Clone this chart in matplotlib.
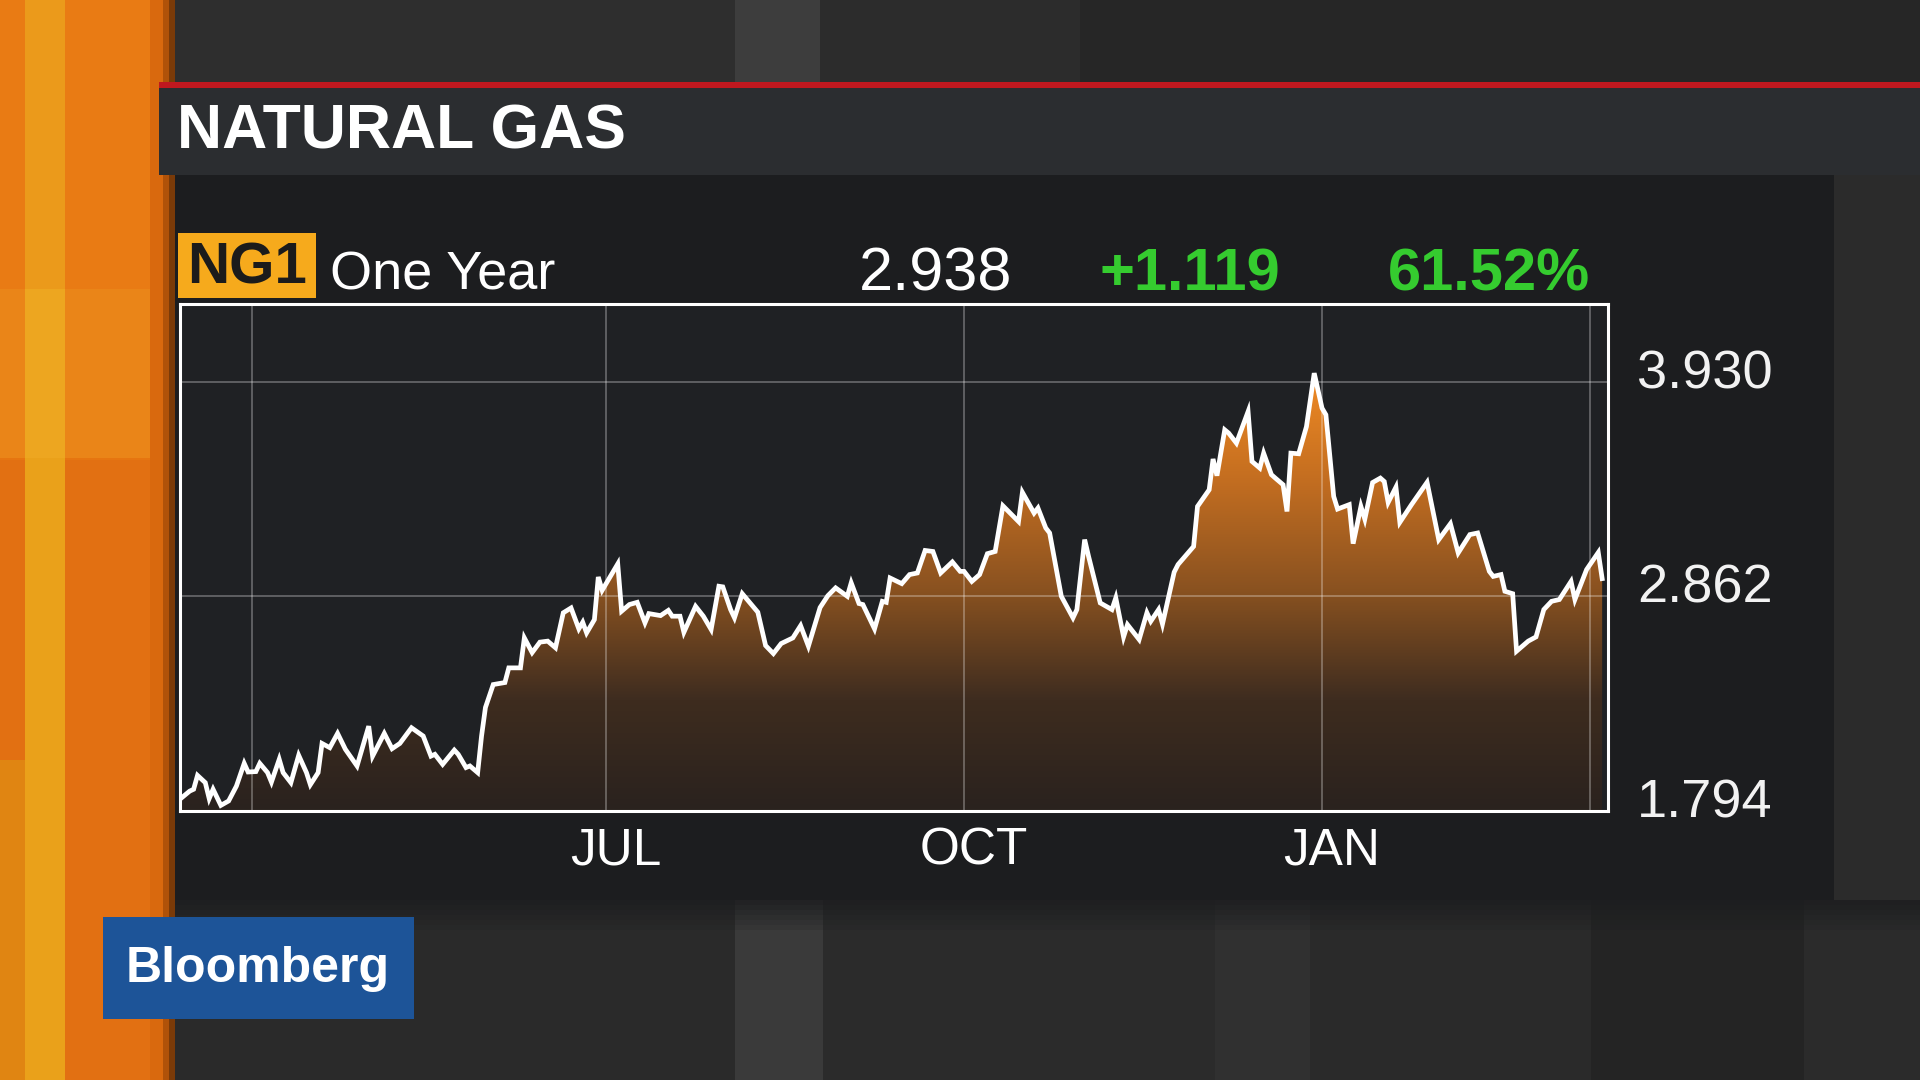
import matplotlib
matplotlib.use("Agg")
import matplotlib.pyplot as plt
import matplotlib.transforms as mtransforms
from matplotlib.patches import Rectangle, PathPatch
from matplotlib.colors import LinearSegmentedColormap
import numpy as np
import pandas as pd

plt.rcParams['font.family'] = ['Liberation Sans', 'DejaVu Sans']

# NG1 front-month natural gas
dates = [
    "2016-03-14", "2016-03-16", "2016-03-17", "2016-03-18", "2016-03-20", "2016-03-21",
    "2016-03-22", "2016-03-24", "2016-03-26", "2016-03-28", "2016-03-30", "2016-03-31",
    "2016-04-02", "2016-04-03", "2016-04-05", "2016-04-06", "2016-04-08", "2016-04-09",
    "2016-04-11", "2016-04-13", "2016-04-15", "2016-04-16", "2016-04-18", "2016-04-19",
    "2016-04-21", "2016-04-23", "2016-04-25", "2016-04-28", "2016-05-01", "2016-05-02",
    "2016-05-05", "2016-05-07", "2016-05-09", "2016-05-12", "2016-05-15", "2016-05-17",
    "2016-05-18", "2016-05-20", "2016-05-23", "2016-05-24", "2016-05-26", "2016-05-27",
    "2016-05-29", "2016-05-30", "2016-05-31", "2016-06-02", "2016-06-05", "2016-06-06",
    "2016-06-09", "2016-06-10", "2016-06-12", "2016-06-14", "2016-06-16", "2016-06-18",
    "2016-06-20", "2016-06-22", "2016-06-24", "2016-06-25", "2016-06-26", "2016-06-28",
    "2016-06-29", "2016-06-30", "2016-07-04", "2016-07-05", "2016-07-07", "2016-07-09",
    "2016-07-11", "2016-07-12", "2016-07-15", "2016-07-17", "2016-07-18", "2016-07-20",
    "2016-07-21", "2016-07-24", "2016-07-26", "2016-07-28", "2016-07-30", "2016-07-31",
    "2016-08-02", "2016-08-03", "2016-08-05", "2016-08-07", "2016-08-09", "2016-08-11",
    "2016-08-13", "2016-08-15", "2016-08-18", "2016-08-20", "2016-08-22", "2016-08-25",
    "2016-08-27", "2016-08-29", "2016-09-01", "2016-09-02", "2016-09-04", "2016-09-05",
    "2016-09-08", "2016-09-10", "2016-09-11", "2016-09-12", "2016-09-15", "2016-09-17",
    "2016-09-19", "2016-09-21", "2016-09-23", "2016-09-25", "2016-09-28", "2016-09-30",
    "2016-10-01", "2016-10-03", "2016-10-05", "2016-10-07", "2016-10-09", "2016-10-11",
    "2016-10-15", "2016-10-16", "2016-10-19", "2016-10-20", "2016-10-22", "2016-10-23",
    "2016-10-26", "2016-10-29", "2016-10-30", "2016-11-01", "2016-11-02", "2016-11-05",
    "2016-11-08", "2016-11-09", "2016-11-11", "2016-11-12", "2016-11-15", "2016-11-17",
    "2016-11-18", "2016-11-20", "2016-11-21", "2016-11-24", "2016-11-25", "2016-11-29",
    "2016-11-30", "2016-12-03", "2016-12-04", "2016-12-05", "2016-12-07", "2016-12-08",
    "2016-12-10", "2016-12-13", "2016-12-14", "2016-12-16", "2016-12-17", "2016-12-19",
    "2016-12-20", "2016-12-22", "2016-12-23", "2016-12-24", "2016-12-26", "2016-12-28",
    "2016-12-30", "2017-01-01", "2017-01-02", "2017-01-04", "2017-01-05", "2017-01-08",
    "2017-01-09", "2017-01-11", "2017-01-12", "2017-01-14", "2017-01-16", "2017-01-17",
    "2017-01-18", "2017-01-20", "2017-01-21", "2017-01-24", "2017-01-28", "2017-01-31",
    "2017-02-03", "2017-02-05", "2017-02-08", "2017-02-10", "2017-02-13", "2017-02-14",
    "2017-02-16", "2017-02-17", "2017-02-19", "2017-02-20", "2017-02-23", "2017-02-25",
    "2017-02-27", "2017-03-01", "2017-03-03", "2017-03-06", "2017-03-07", "2017-03-10",
    "2017-03-13", "2017-03-14",
]
prices = [
    1.861, 1.893, 1.902, 1.971, 1.935, 1.856,
    1.902, 1.822, 1.844, 1.918, 2.031, 1.988,
    1.990, 2.031, 1.985, 1.938, 2.051, 1.985,
    1.935, 2.071, 1.985, 1.925, 1.985, 2.130,
    2.109, 2.180, 2.101, 2.018, 2.216, 2.067,
    2.180, 2.104, 2.130, 2.208, 2.167, 2.067,
    2.076, 2.026, 2.097, 2.076, 2.010, 2.018,
    1.985, 2.167, 2.309, 2.423, 2.433, 2.506,
    2.506, 2.655, 2.582, 2.634, 2.639, 2.606,
    2.780, 2.804, 2.700, 2.733, 2.680, 2.746,
    2.958, 2.892, 3.023, 2.788, 2.821, 2.832,
    2.730, 2.776, 2.766, 2.792, 2.763, 2.763,
    2.683, 2.812, 2.763, 2.697, 2.912, 2.909,
    2.796, 2.755, 2.875, 2.829, 2.783, 2.617,
    2.577, 2.627, 2.655, 2.716, 2.614, 2.806,
    2.865, 2.904, 2.862, 2.929, 2.826, 2.821,
    2.700, 2.837, 2.832, 2.953, 2.925, 2.970,
    2.978, 3.090, 3.085, 2.978, 3.033, 2.986,
    2.986, 2.936, 2.970, 3.074, 3.085, 3.312,
    3.234, 3.379, 3.276, 3.301, 3.202, 3.177,
    2.862, 2.755, 2.796, 3.144, 3.061, 2.829,
    2.796, 2.854, 2.660, 2.721, 2.647, 2.780,
    2.738, 2.796, 2.724, 2.982, 3.020, 3.110,
    3.309, 3.392, 3.545, 3.462, 3.690, 3.674,
    3.624, 3.781, 3.533, 3.500, 3.574, 3.467,
    3.450, 3.417, 3.284, 3.574, 3.571, 3.706,
    3.972, 3.798, 3.765, 3.359, 3.296, 3.318,
    3.124, 3.309, 3.246, 3.428, 3.450, 3.433,
    3.329, 3.405, 3.230, 3.318, 3.429, 3.144,
    3.223, 3.078, 3.169, 3.177, 2.986, 2.961,
    2.970, 2.887, 2.875, 2.589, 2.639, 2.660,
    2.796, 2.837, 2.846, 2.936, 2.846, 2.995,
    3.080, 2.950,
]

y_ticks = [1.794, 2.862, 3.930]
y_labels = ["1.794", "2.862", "3.930"]
x_ticks = ["2016-04-01", "2016-07-01", "2016-10-01", "2017-01-01", "2017-03-11"]
x_labels = ["", "JUL", "OCT", "JAN", ""]

title = "NATURAL GAS"
ticker = "NG1"
period = "One Year"
last_price = "2.938"
net_change = "+1.119"
pct_change = "61.52%"

x = pd.to_datetime(dates)
y_bottom, y_top = 1.794, 4.316

fig = plt.figure(figsize=(19.2, 10.8), dpi=100)

# --- broadcast-style backdrop, in pixel coords
bg = fig.add_axes([0, 0, 1, 1])
bg.set_xlim(0, 1920)
bg.set_ylim(1080, 0)
bg.axis("off")

def box(x0, y0, w, h, color, **kw):
    bg.add_patch(Rectangle((x0, y0), w, h, facecolor=color, edgecolor="none", **kw))

box(0, 0, 1920, 1080, "#282828")
# top strip with vertical bands
box(175, 0, 560, 82, "#2e2e2e")
box(735, 0, 85, 82, "#3d3d3d")
box(820, 0, 260, 82, "#2c2c2c")
box(1080, 0, 840, 82, "#262626")
# bottom strip with vertical bands
box(175, 900, 560, 180, "#2a2a2a")
box(735, 900, 88, 180, "#3a3a3a")
box(823, 900, 392, 180, "#2b2b2b")
box(1215, 900, 95, 180, "#303030")
box(1310, 900, 281, 180, "#2a2a2a")
box(1591, 900, 213, 180, "#242424")
box(1804, 900, 116, 180, "#2b2b2b")
for i in range(6):
    box(175, 900 + 5 * i, 1745, 5, "#1c1d1f", alpha=0.8 - 0.13 * i)
# right side of the panel
box(1834, 175, 86, 725, "#2b2b2b")

# orange stripe on the left
box(0, 0, 175, 1080, "#e67510")
box(0, 460, 175, 620, "#e27012")
box(0, 760, 25, 320, "#e08512")
box(25, 0, 40, 1080, "#eaa11a")
box(0, 0, 160, 289, "#f08a1e", alpha=0.3)
box(0, 289, 160, 169, "#f6b632", alpha=0.25)
box(150, 0, 13, 1080, "#d9690e")
box(163, 0, 6, 1080, "#b05209")
box(169, 0, 6, 1080, "#7a3a08")

# panel, title bar and red rule
box(175, 175, 1659, 725, "#1c1d1f")
box(159, 88, 1761, 87, "#2b2d30")
box(159, 82, 1761, 6, "#c0181f")
bg.text(177, 132, title, color="white", fontsize=45, fontweight="bold",
        va="center", ha="left")

# header row
box(178, 233, 138, 65, "#f6aa1c")
bg.text(247, 268, ticker, color="#1b1b1b", fontsize=42, fontweight="bold",
        va="center", ha="center")
bg.text(330, 276, period, color="white", fontsize=39, va="center", ha="left")
bg.text(1012, 275, last_price, color="white", fontsize=44, va="center", ha="right")
bg.text(1280, 275, net_change, color="#35cc2f", fontsize=43, fontweight="bold",
        va="center", ha="right")
bg.text(1590, 275, pct_change, color="#35cc2f", fontsize=43, fontweight="bold",
        va="center", ha="right")

# Bloomberg badge
box(103, 917, 311, 102, "#1d5498")
bg.text(258, 969, "Bloomberg", color="white", fontsize=36, fontweight="bold",
        va="center", ha="center")

# --- the chart itself
ax = fig.add_axes([180 / 1920, 1 - 811 / 1080, 1428 / 1920, 507 / 1080])
ax.set_facecolor("#1f2124")

fill = ax.fill_between(x, prices, y_bottom, color="none", linewidth=0)
clip = PathPatch(fill.get_paths()[0], transform=ax.transData,
                 facecolor="none", edgecolor="none")
ax.add_patch(clip)
cmap = LinearSegmentedColormap.from_list(
    "gas", ["#2a221e", "#3e2c1f", "#8a5220", "#c46e20", "#f28c25"])
grad = np.linspace(0, 1, 256).reshape(-1, 1)
im = ax.imshow(grad, cmap=cmap, origin="lower", aspect="auto", zorder=1,
               extent=[x[0], x[-1], y_bottom, 4.0])
im.set_clip_path(clip)
ax.set_xlim(pd.Timestamp("2016-03-13 12:00"), pd.Timestamp("2017-03-15 12:00"))
ax.set_ylim(y_bottom, y_top)

ax.plot(x, prices, color="white", lw=3.4, solid_joinstyle="miter", zorder=4)

ax.set_xticks(pd.to_datetime(x_ticks))
ax.set_xticklabels(x_labels)
ax.set_yticks(y_ticks)
ax.set_yticklabels(y_labels)
ax.grid(True, color="white", alpha=0.3, lw=1.3)
ax.set_axisbelow(False)
for ln in ax.get_xgridlines() + ax.get_ygridlines():
    ln.set_zorder(3)

ax.yaxis.tick_right()
ax.tick_params(axis="both", length=0, colors="white")
ax.tick_params(axis="y", labelsize=39, pad=21)
ax.tick_params(axis="x", labelsize=37, pad=11)
shift_y = mtransforms.ScaledTranslation(0, 13 / 100, fig.dpi_scale_trans)
for lab in ax.get_yticklabels():
    lab.set_transform(lab.get_transform() + shift_y)
    lab.set_color("#f2f2f2")
shift_x = mtransforms.ScaledTranslation(10 / 100, 0, fig.dpi_scale_trans)
for lab in ax.get_xticklabels():
    lab.set_transform(lab.get_transform() + shift_x)
for sp in ax.spines.values():
    sp.set_color("white")
    sp.set_linewidth(2.2)

fig.savefig("out.png", dpi=100)
